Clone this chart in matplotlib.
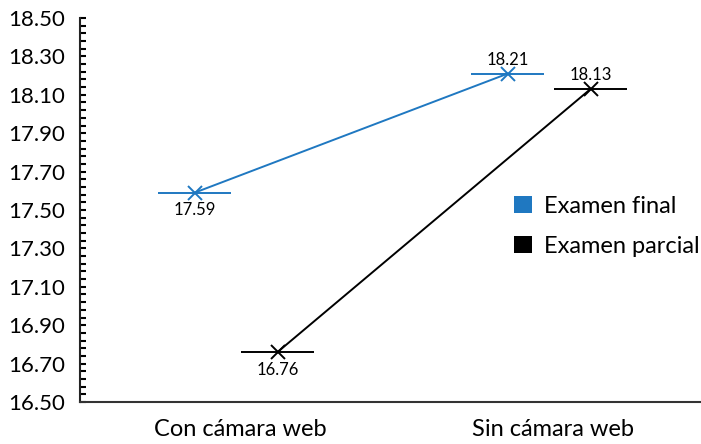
import matplotlib
matplotlib.use("Agg")
import matplotlib.pyplot as plt
import numpy as np
from matplotlib.ticker import FixedLocator, FormatStrFormatter
from matplotlib.patches import Patch

categories = ["Con cámara web", "Sin cámara web"]
series_names = ["Examen final", "Examen parcial"]
final_values = [17.59, 18.21]
parcial_values = [16.76, 18.13]
y_ticks = [16.50, 16.70, 16.90, 17.10, 17.30, 17.50, 17.70, 17.90, 18.10, 18.30, 18.50]
colors = ["#1F78C1", "#000000"]

plt.rcParams["font.family"] = ["Lato", "DejaVu Sans"]

fig = plt.figure(figsize=(7.01, 4.44), dpi=100)
ax = fig.add_axes([80 / 701, 1 - 402 / 444, 621 / 701, 384 / 444])

offsets = [-0.145, 0.12]
half_width = 0.118
label_pos = [["below", "above"], ["below", "above"]]

for i, (vals, col, off) in enumerate(zip([final_values, parcial_values], colors, offsets)):
    xs = [k + off for k in range(len(categories))]
    ax.errorbar(xs, vals, xerr=half_width, color=col, lw=1.4, marker="x",
                markersize=10, markeredgewidth=1.4, capsize=0, zorder=3)
    for x, v, pos in zip(xs, vals, label_pos[i]):
        dy = -7 if pos == "below" else 4
        va = "top" if pos == "below" else "bottom"
        ax.annotate(f"{v:.2f}", (x, v), xytext=(0, dy), textcoords="offset points",
                    ha="center", va=va, fontsize=12, color="#000000")

ax.set_xlim(-0.511, 1.473)
ax.set_ylim(y_ticks[0], y_ticks[-1])
ax.yaxis.set_major_locator(FixedLocator(y_ticks))
ax.yaxis.set_minor_locator(FixedLocator(np.linspace(y_ticks[0], y_ticks[-1], 51)))
ax.yaxis.set_major_formatter(FormatStrFormatter("%.2f"))
ax.set_xticks(range(len(categories)))
ax.set_xticklabels(categories)
ax.tick_params(axis="y", which="both", direction="in", length=4, width=1.5,
               labelsize=16, pad=11, color="#000000")
ax.tick_params(axis="x", length=0, labelsize=17, pad=12)

for s in ["top", "right"]:
    ax.spines[s].set_visible(False)
ax.spines["left"].set_linewidth(1.5)
ax.spines["bottom"].set_linewidth(1.5)
ax.spines["left"].set_color("#222222")
ax.spines["bottom"].set_color("#333333")

handles = [Patch(facecolor=c, edgecolor="none") for c in colors]
ax.legend(handles, series_names, loc="center left", bbox_to_anchor=(0.68, 0.458),
          frameon=False, fontsize=17, handlelength=0.75, handleheight=0.75,
          handletextpad=0.5, labelspacing=0.8, borderpad=0)

fig.savefig("out.png", dpi=100)
